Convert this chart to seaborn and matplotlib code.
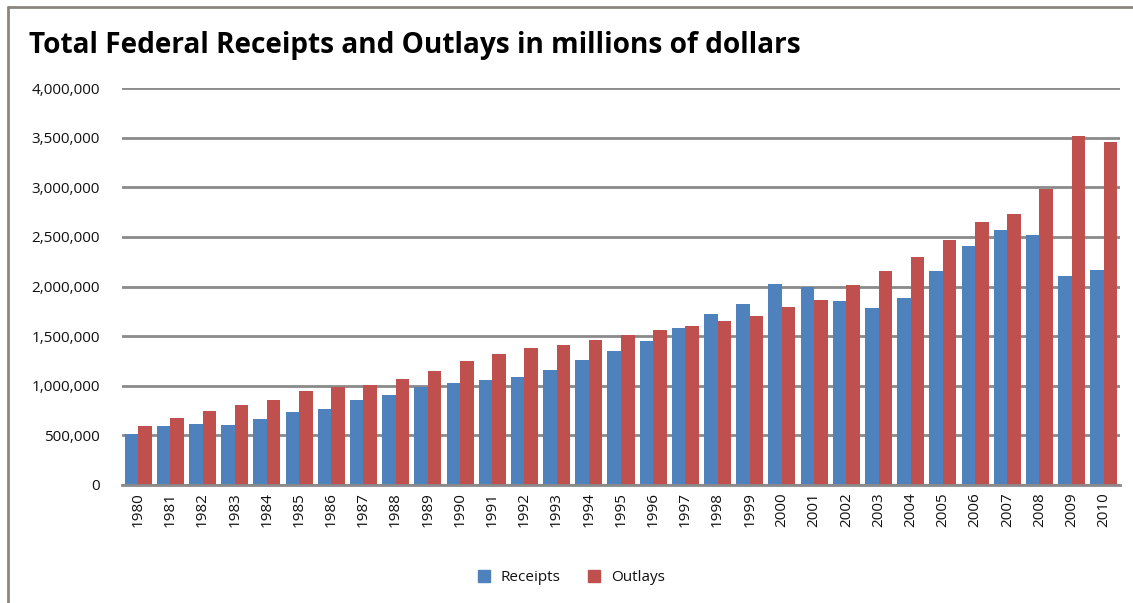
import matplotlib
matplotlib.use('Agg')
import matplotlib.pyplot as plt
from matplotlib.lines import Line2D
from matplotlib.ticker import FuncFormatter
import pandas as pd
import seaborn as sns

years = [str(y) for y in range(1980, 2011)]
receipts = [517112, 599272, 617766, 600562, 666438, 734037, 769155, 854287,
            909238, 991105, 1031958, 1054988, 1091208, 1154335, 1258566,
            1351790, 1453053, 1579232, 1721728, 1827452, 2025191, 1991082,
            1853136, 1782314, 1880114, 2153611, 2406869, 2567985, 2523991,
            2104989, 2165119]
outlays = [590941, 678241, 745743, 808364, 851805, 946344, 990382, 1004017,
           1064416, 1143743, 1252993, 1324226, 1381529, 1409386, 1461752,
           1515742, 1560484, 1601116, 1652458, 1701842, 1788950, 1862846,
           2010894, 2159899, 2292841, 2471957, 2655050, 2728686, 2982544,
           3517677, 3456213]
series = ['Receipts', 'Outlays']
colors = ['#4F81BD', '#C0504D']
y_ticks = [0, 500000, 1000000, 1500000, 2000000, 2500000, 3000000, 3500000, 4000000]

df = pd.DataFrame({'year': years * 2,
                   'value': receipts + outlays,
                   'series': ['Receipts'] * len(years) + ['Outlays'] * len(years)})

sns.set_style('white')
plt.rcParams['font.family'] = ['Open Sans', 'DejaVu Sans']

fig = plt.figure(figsize=(11.33, 6.03), dpi=100)
ax = fig.add_axes([0.1077, 0.1957, 0.8808, 0.6583])

sns.barplot(data=df, x='year', y='value', hue='series', hue_order=series,
            palette=colors, width=0.84, gap=0, saturation=1, linewidth=0,
            legend=False, ax=ax)

ax.set_ylim(0, 4000000)
ax.set_xlim(-0.5, len(years) - 0.5)
ax.set_yticks(y_ticks)
ax.yaxis.set_major_formatter(FuncFormatter(lambda v, p: f'{int(v):,}'))
ax.yaxis.grid(True, color='#8a8a8a', linewidth=2)
ax.set_axisbelow(True)
ax.set_xlabel('')
ax.set_ylabel('')
for s in ['left', 'right', 'top']:
    ax.spines[s].set_visible(False)
ax.spines['bottom'].set_color('#8a8a8a')
ax.spines['bottom'].set_linewidth(2)
ax.tick_params(axis='y', length=0, labelsize=11, pad=16, labelcolor='#111111')
ax.tick_params(axis='x', length=0, labelsize=11, rotation=90, pad=5, labelcolor='#111111')

fig.text(0.026, 0.924, 'Total Federal Receipts and Outlays in millions of dollars',
         fontsize=20.2, fontweight='bold', va='center', ha='left', color='black')

handles = [Line2D([], [], marker='s', linestyle='', markersize=8,
                  markerfacecolor=c, markeredgecolor=c) for c in colors]
leg = fig.legend(handles, series, loc='center', bbox_to_anchor=(0.5, 0.042), ncol=2,
                 frameon=False, fontsize=11, handletextpad=0.1, columnspacing=1.2)
for t in leg.get_texts():
    t.set_color('#111111')

# outer chart frame (top and left edges visible)
fig.add_artist(Line2D([0.0075, 0.0075], [0, 0.988], transform=fig.transFigure,
                      color='#8a8580', linewidth=2))
fig.add_artist(Line2D([0.0075, 1.0], [0.988, 0.988], transform=fig.transFigure,
                      color='#8a8580', linewidth=2))

fig.savefig('out.png', dpi=100, facecolor='white')
